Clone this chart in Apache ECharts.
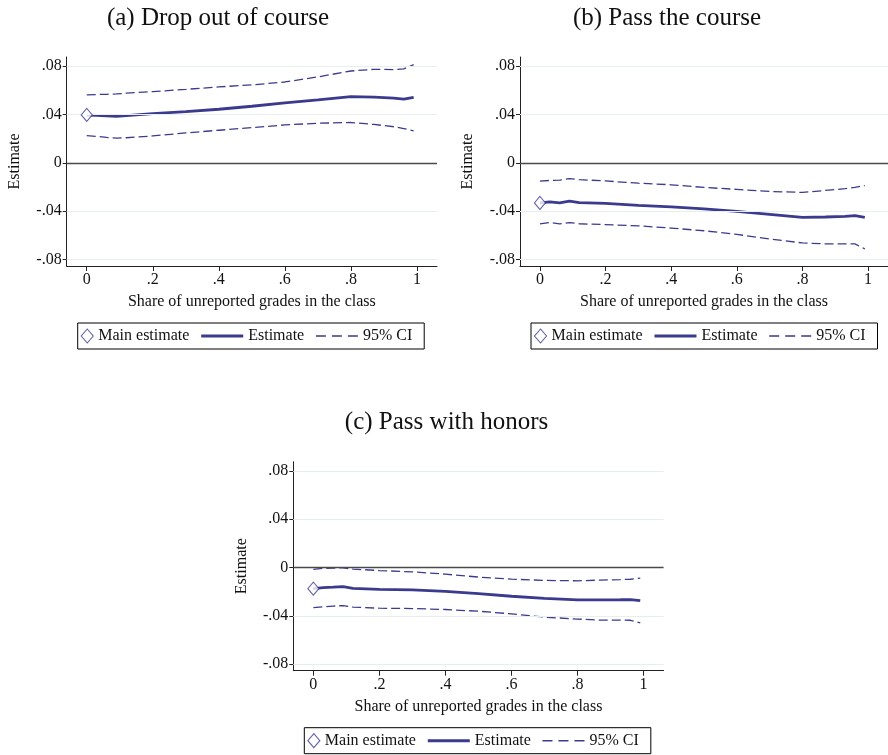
<!DOCTYPE html>
<html>
<head>
<meta charset="utf-8">
<script src="https://cdn.jsdelivr.net/npm/echarts@6/dist/echarts.min.js"></script>
<style>
html,body{margin:0;padding:0;background:#fff;}
#chart{width:888px;height:755px;}
</style>
</head>
<body>
<div id="chart"></div>
<script>
// ---- data ----
const xs = [0, 0.03, 0.06, 0.09, 0.12, 0.2, 0.3, 0.4, 0.5, 0.6, 0.7, 0.8, 0.87, 0.93, 0.96, 0.99];

const dropMain = 0.0397;
const dropEst   = [0.0395, 0.0393, 0.0390, 0.0386, 0.0392, 0.0408, 0.0424, 0.0444, 0.0469, 0.0497, 0.0521, 0.0549, 0.0544, 0.0536, 0.0528, 0.0543];
const dropUpper = [0.0563, 0.0566, 0.0568, 0.0571, 0.0577, 0.0590, 0.0609, 0.0629, 0.0646, 0.0670, 0.0712, 0.0761, 0.0775, 0.0773, 0.0778, 0.0814];
const dropLower = [0.0226, 0.0219, 0.0211, 0.0204, 0.0208, 0.0223, 0.0248, 0.0270, 0.0292, 0.0314, 0.0328, 0.0334, 0.0318, 0.0299, 0.0284, 0.0265];

const passMain = -0.0332;
const passEst   = [-0.0332, -0.0324, -0.0332, -0.0318, -0.0329, -0.0336, -0.0352, -0.0365, -0.0381, -0.0403, -0.0427, -0.0452, -0.0449, -0.0443, -0.0438, -0.0452];
const passUpper = [-0.0152, -0.0146, -0.0144, -0.0131, -0.0139, -0.0150, -0.0169, -0.0182, -0.0204, -0.0220, -0.0237, -0.0245, -0.0229, -0.0214, -0.0204, -0.0188];
const passLower = [-0.0506, -0.0495, -0.0506, -0.0495, -0.0505, -0.0512, -0.0522, -0.0541, -0.0563, -0.0593, -0.0631, -0.0664, -0.0672, -0.0672, -0.0672, -0.0713];

const honorsMain = -0.0175;
const honorsEst   = [-0.0175, -0.0166, -0.0163, -0.0159, -0.0172, -0.0181, -0.0186, -0.0197, -0.0216, -0.0238, -0.0255, -0.0268, -0.0268, -0.0267, -0.0266, -0.0274];
const honorsUpper = [-0.0016, -0.0007, -0.0004, -0.0003, -0.0013, -0.0025, -0.0036, -0.0055, -0.0079, -0.0096, -0.0107, -0.0110, -0.0104, -0.0100, -0.0097, -0.0088];
const honorsLower = [-0.0332, -0.0325, -0.0320, -0.0315, -0.0328, -0.0337, -0.0340, -0.0348, -0.0362, -0.0384, -0.0411, -0.0427, -0.0436, -0.0436, -0.0437, -0.0458];

const panelTitles = ['(a) Drop out of course', '(b) Pass the course', '(c) Pass with honors'];
const xTicks = [0, 0.2, 0.4, 0.6, 0.8, 1];
const xTickLabels = ['0', '.2', '.4', '.6', '.8', '1'];
const yTicks = [-0.08, -0.04, 0, 0.04, 0.08];
const yTickLabels = ['-.08', '-.04', '0', '.04', '.08'];
const xTitle = 'Share of unreported grades in the class';
const yTitle = 'Estimate';
const legendNames = ['Main estimate', 'Estimate', '95% CI'];

// ---- styles / layout ----
const NAVY = '#3a3a8f';
const FONT = "'Liberation Serif','Times New Roman',serif";
const TXT = '#111';
const panels = [
  {main: dropMain, est: dropEst, up: dropUpper, lo: dropLower, left: 66.7, top: 57, titleX: 218},
  {main: passMain, est: passEst, up: passUpper, lo: passLower, left: 520, top: 57, titleX: 667},
  {main: honorsMain, est: honorsEst, up: honorsUpper, lo: honorsLower, left: 293.3, top: 461.7, titleX: 446.6}
];
const GW = 370.3, GH = 209;

function pairs(ys) { return xs.map((x, i) => [x, ys[i]]); }
function lab(ticks, labels) { return v => { const i = ticks.findIndex(t => Math.abs(t - v) < 1e-9); return i >= 0 ? labels[i] : ''; }; }

const grid = [], xAxis = [], yAxis = [], series = [], title = [], legend = [];
panels.forEach((p, i) => {
  grid.push({left: p.left, top: p.top, width: GW, height: GH});
  title.push({text: panelTitles[i], left: p.titleX, top: p.top - 52, textAlign: 'center', padding: 0,
    textStyle: {fontFamily: FONT, fontSize: 25, fontWeight: 'normal', color: TXT, lineHeight: 26}});
  xAxis.push({type: 'value', gridIndex: i, min: -0.0607, max: 1.0607,
    name: xTitle, nameLocation: 'middle', nameGap: 27,
    nameTextStyle: {fontFamily: FONT, fontSize: 16, color: TXT, lineHeight: 18},
    axisLine: {show: true, onZero: false, lineStyle: {color: '#222', width: 1}},
    axisTick: {show: true, length: 5, customValues: xTicks, lineStyle: {color: '#222'}},
    axisLabel: {customValues: xTicks, formatter: lab(xTicks, xTickLabels), margin: 6,
      fontFamily: FONT, fontSize: 16, color: TXT},
    splitLine: {show: false}});
  yAxis.push({type: 'value', gridIndex: i, min: -0.0855, max: 0.0877,
    name: yTitle, nameLocation: 'middle', nameGap: 44,
    nameTextStyle: {fontFamily: FONT, fontSize: 16, color: TXT},
    axisLine: {show: true, onZero: false, lineStyle: {color: '#222', width: 1}},
    axisTick: {show: true, length: 4, customValues: yTicks, lineStyle: {color: '#222'}},
    axisLabel: {customValues: yTicks, formatter: lab(yTicks, yTickLabels), margin: 5,
      fontFamily: FONT, fontSize: 16, color: TXT},
    splitLine: {show: false}});
  // grid lines + zero line
  series.push({type: 'line', xAxisIndex: i, yAxisIndex: i, data: [], z: 1, silent: true,
    markLine: {silent: true, symbol: ['none', 'none'], label: {show: false},
      data: yTicks.map(v => ({yAxis: v, lineStyle: v === 0 ? {color: '#4a4a4a', width: 1.4, type: 'solid'} : {color: '#e6eef0', width: 1, type: 'solid'}}))}});
  series.push({name: legendNames[2], type: 'line', xAxisIndex: i, yAxisIndex: i, data: pairs(p.up), z: 3,
    symbol: 'none', lineStyle: {color: NAVY, width: 1.3, type: [9, 4]}, itemStyle: {color: NAVY}});
  series.push({name: legendNames[2], type: 'line', xAxisIndex: i, yAxisIndex: i, data: pairs(p.lo), z: 3,
    symbol: 'none', lineStyle: {color: NAVY, width: 1.3, type: [9, 4]}, itemStyle: {color: NAVY}});
  series.push({name: legendNames[1], type: 'line', xAxisIndex: i, yAxisIndex: i, data: pairs(p.est), z: 4,
    symbol: 'none', lineStyle: {color: NAVY, width: 2.8}, itemStyle: {color: NAVY}});
  series.push({name: legendNames[0], type: 'scatter', xAxisIndex: i, yAxisIndex: i, data: [[0, p.main]], z: 5,
    symbol: 'diamond', symbolSize: [11, 13], itemStyle: {color: '#fff', borderColor: NAVY, borderWidth: 1.1}});
  const boxLeft = p.left + 11, boxTop = p.top + 266;
  legend.push({data: [
      {name: legendNames[1], itemStyle: {opacity: 0}, lineStyle: {color: NAVY, width: 3, type: 'solid'}},
      {name: legendNames[2], itemStyle: {opacity: 0}, lineStyle: {color: NAVY, width: 1.4, type: [10, 6]}}],
    left: boxLeft, top: boxTop, orient: 'horizontal',
    padding: [5, 12, 5, 122], itemWidth: 42, itemHeight: 14, itemGap: 11, selectedMode: false,
    borderColor: '#000', borderWidth: 1, backgroundColor: '#fff',
    textStyle: {fontFamily: FONT, fontSize: 16, color: TXT}});
  legend.push({data: [{name: legendNames[0], itemStyle: {color: '#fff', borderColor: NAVY, borderWidth: 1.1}}],
    left: boxLeft + 3, top: boxTop + 5, padding: 0, itemWidth: 12, itemHeight: 14, selectedMode: false,
    textStyle: {fontFamily: FONT, fontSize: 16, color: TXT}});
});

const chart = echarts.init(document.getElementById('chart'), null, {renderer: 'canvas'});
chart.setOption({animation: false, backgroundColor: '#fff', title, legend, grid, xAxis, yAxis, series});
</script>
</body>
</html>
